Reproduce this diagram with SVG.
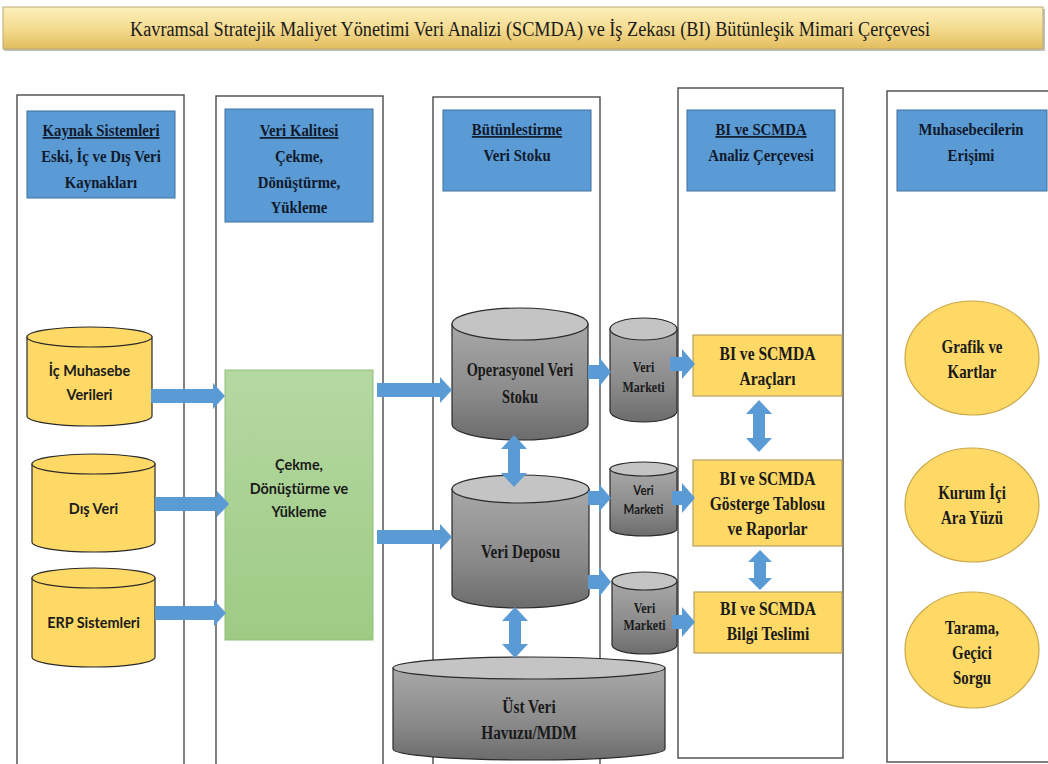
<svg xmlns="http://www.w3.org/2000/svg" width="1048" height="764" viewBox="0 0 1048 764">
  <style>
    .col { fill: #ffffff; stroke: #4a4a4a; stroke-width: 1.4; }
    .hdr { fill: #5b9bd5; stroke: #41719c; stroke-width: 1; }
    .hdrtxt { font-family: "Liberation Serif", "Times New Roman", serif; font-weight: bold; font-size: 17px; fill: #101a2c; text-anchor: middle; }
    .u { text-decoration: underline; }
    .serif { font-family: "Liberation Serif", "Times New Roman", serif; font-weight: bold; fill: #1a1a1a; text-anchor: middle; }
    .sans { font-family: Lato, "Open Sans", "Liberation Sans", sans-serif; font-weight: bold; fill: #1a1a1a; text-anchor: middle; }
    .ycyl { fill: #ffd966; stroke: #2a2a2a; stroke-width: 1.2; }
    .gbody { fill: url(#grayBody); stroke: #2a2a2a; stroke-width: 1.2; }
    .gtop { fill: #c4c4c4; stroke: #2a2a2a; stroke-width: 1.2; }
    .ybox { fill: #ffd966; stroke: #b8a060; stroke-width: 1.2; }
    .yell { fill: #ffd966; stroke: #c9a84a; stroke-width: 1.2; }
    .arw { fill: #5b9bd5; stroke: none; }
  </style>
  <defs>
    <linearGradient id="titleGrad" x1="0" y1="0" x2="0" y2="1">
      <stop offset="0" stop-color="#fdf0bb"/>
      <stop offset="0.5" stop-color="#f5dc92"/>
      <stop offset="1" stop-color="#e2bd5e"/>
    </linearGradient>
    <linearGradient id="greenGrad" x1="0" y1="0" x2="0" y2="1">
      <stop offset="0" stop-color="#b5d8a2"/>
      <stop offset="1" stop-color="#9ecb84"/>
    </linearGradient>
    <linearGradient id="grayBody" x1="0" y1="0" x2="0" y2="1">
      <stop offset="0" stop-color="#a8a8a8"/>
      <stop offset="0.6" stop-color="#8a8a8a"/>
      <stop offset="1" stop-color="#6c6c6c"/>
    </linearGradient>
  </defs>

  <!-- title banner -->
  <g id="title">
    <rect x="4" y="9" width="1041" height="42" fill="#9a9a9a" opacity="0.6"/>
    <rect x="3" y="7" width="1040" height="42" fill="url(#titleGrad)" stroke="#b9a878" stroke-width="1"/>
    <text x="530" y="36" font-family="Liberation Serif, Times New Roman, serif" font-size="20" fill="#1a1a1a" text-anchor="middle" textLength="800" lengthAdjust="spacingAndGlyphs">Kavramsal  Stratejik  Maliyet  Yönetimi  Veri  Analizi  (SCMDA) ve  İş  Zekası  (BI)  Bütünleşik  Mimari  Çerçevesi</text>
  </g>

  <!-- column frames with headings -->
  <g id="col-sources">
    <rect class="col" x="17" y="95" width="167" height="690"/>
    <rect class="hdr" x="27" y="111" width="148" height="87"/>
    <g class="hdrtxt" transform="matrix(0.87,0,0,1,101,0)">
      <text x="0" y="136"><tspan class="u">Kaynak Sistemleri</tspan></text>
      <text x="0" y="162">Eski, İç ve Dış Veri</text>
      <text x="0" y="188">Kaynakları</text>
    </g>
  </g>
  <g id="col-quality">
    <rect class="col" x="216" y="96" width="167" height="690" stroke="#666"/>
    <rect class="hdr" x="225" y="109" width="148" height="113"/>
    <g class="hdrtxt" transform="matrix(0.87,0,0,1,299,0)">
      <text x="0" y="136"><tspan class="u">Veri Kalitesi</tspan></text>
      <text x="0" y="162">Çekme,</text>
      <text x="0" y="188">Dönüştürme,</text>
      <text x="0" y="213">Yükleme</text>
    </g>
  </g>
  <g id="col-integration">
    <rect class="col" x="433" y="97" width="167" height="690"/>
    <rect class="hdr" x="443" y="110" width="148" height="81"/>
    <g class="hdrtxt" transform="matrix(0.87,0,0,1,517,0)">
      <text x="0" y="135"><tspan class="u">Bütünlestirme</tspan></text>
      <text x="0" y="161">Veri Stoku</text>
    </g>
  </g>
  <g id="col-analysis">
    <rect class="col" x="678" y="88" width="165" height="670"/>
    <rect class="hdr" x="687" y="110" width="148" height="81"/>
    <g class="hdrtxt" transform="matrix(0.87,0,0,1,761,0)">
      <text x="0" y="135"><tspan class="u">BI ve SCMDA</tspan></text>
      <text x="0" y="161">Analiz  Çerçevesi</text>
    </g>
  </g>
  <g id="col-access">
    <rect class="col" x="887" y="91" width="200" height="671"/>
    <rect class="hdr" x="897" y="110" width="150" height="81"/>
    <g class="hdrtxt" transform="matrix(0.87,0,0,1,971,0)">
      <text x="0" y="135">Muhasebecilerin</text>
      <text x="0" y="161">Erişimi</text>
    </g>
  </g>

  <!-- source databases -->
  <g id="src-internal">
    <path class="ycyl" d="M27,337 V416 A62.5,10 0 0 0 152,416 V337 Z"/>
    <ellipse class="ycyl" cx="89.5" cy="337" rx="62.5" ry="10"/>
    <g class="sans" font-size="16" transform="matrix(0.9,0,0,1,89.5,0)">
      <text x="0" y="375.5">İç Muhasebe</text>
      <text x="0" y="400.5">Verileri</text>
    </g>
  </g>
  <g id="src-external">
    <path class="ycyl" d="M32,464 V542 A61.5,10 0 0 0 155,542 V464 Z"/>
    <ellipse class="ycyl" cx="93.5" cy="464" rx="61.5" ry="10"/>
    <g class="sans" font-size="16" transform="matrix(0.9,0,0,1,93.5,0)">
      <text x="0" y="514.5">Dış Veri</text>
    </g>
  </g>
  <g id="src-erp">
    <path class="ycyl" d="M32,578 V657 A61.5,10 0 0 0 155,657 V578 Z"/>
    <ellipse class="ycyl" cx="93.5" cy="578" rx="61.5" ry="10"/>
    <g class="sans" font-size="16" transform="matrix(0.9,0,0,1,93.5,0)">
      <text x="0" y="628.5">ERP Sistemleri</text>
    </g>
  </g>

  <!-- extract / transform / load -->
  <g id="etl">
    <rect x="225" y="370" width="148" height="270" fill="url(#greenGrad)" stroke="#8fbf78" stroke-width="1"/>
    <g class="sans" font-size="16" transform="matrix(0.9,0,0,1,299,0)">
      <text x="0" y="470.5">Çekme,</text>
      <text x="0" y="494">Dönüştürme ve</text>
      <text x="0" y="517.5">Yükleme</text>
    </g>
  </g>

  <!-- integration stores -->
  <g id="ods">
    <path class="gbody" d="M452,324 V424 A68,16 0 0 0 588,424 V324 Z"/>
    <ellipse class="gtop" cx="520" cy="324" rx="68" ry="16"/>
    <g class="serif" font-size="18" transform="matrix(0.8,0,0,1,520,0)">
      <text x="0" y="376">Operasyonel Veri</text>
      <text x="0" y="403">Stoku</text>
    </g>
  </g>
  <g id="dwh">
    <path class="gbody" d="M452,489 V594 A68.5,14 0 0 0 589,594 V489 Z"/>
    <ellipse class="gtop" cx="520.5" cy="489" rx="68.5" ry="14"/>
    <g class="serif" font-size="19" transform="matrix(0.8,0,0,1,520.5,0)">
      <text x="0" y="558.5">Veri Deposu</text>
    </g>
  </g>
  <g id="mdm">
    <path class="gbody" d="M393,668 V749 A136,11 0 0 0 665,749 V668 Z"/>
    <ellipse class="gtop" cx="529" cy="668" rx="136" ry="11"/>
    <g class="serif" font-size="19" transform="matrix(0.81,0,0,1,529,0)">
      <text x="0" y="713.5">Üst Veri</text>
      <text x="0" y="739.5">Havuzu/MDM</text>
    </g>
  </g>

  <!-- data marts -->
  <g id="mart-1">
    <path class="gbody" d="M610,329 V411 A33.5,11 0 0 0 677,411 V329 Z"/>
    <ellipse class="gtop" cx="643.5" cy="329" rx="33.5" ry="11"/>
    <g class="serif" font-size="15" transform="matrix(0.8,0,0,1,643.5,0)">
      <text x="0" y="372">Veri</text>
      <text x="0" y="392">Marketi</text>
    </g>
  </g>
  <g id="mart-2">
    <path class="gbody" d="M610,469 V529 A33.5,7 0 0 0 677,529 V469 Z"/>
    <ellipse class="gtop" cx="643.5" cy="469" rx="33.5" ry="7"/>
    <g class="sans" font-size="13" font-weight="normal" transform="matrix(0.88,0,0,1,643.5,0)">
      <text x="0" y="495.5">Veri</text>
      <text x="0" y="514.5">Marketi</text>
    </g>
  </g>
  <g id="mart-3">
    <path class="gbody" d="M612,581 V645 A32.5,9 0 0 0 677,645 V581 Z"/>
    <ellipse class="gtop" cx="644.5" cy="581" rx="32.5" ry="9"/>
    <g class="serif" font-size="15" transform="matrix(0.8,0,0,1,644.5,0)">
      <text x="0" y="613">Veri</text>
      <text x="0" y="630.5">Marketi</text>
    </g>
  </g>

  <!-- analysis components -->
  <g id="bi-tools">
    <rect class="ybox" x="693" y="335" width="149" height="61"/>
    <g class="serif" font-size="19" transform="matrix(0.82,0,0,1,767.5,0)">
      <text x="0" y="360">BI ve SCMDA</text>
      <text x="0" y="385">Araçları</text>
    </g>
  </g>
  <g id="bi-dashboard">
    <rect class="ybox" x="693" y="460" width="149" height="86"/>
    <g class="serif" font-size="19" transform="matrix(0.82,0,0,1,767.5,0)">
      <text x="0" y="485">BI ve SCMDA</text>
      <text x="0" y="510">Gösterge Tablosu</text>
      <text x="0" y="535">ve Raporlar</text>
    </g>
  </g>
  <g id="bi-delivery">
    <rect class="ybox" x="694" y="592" width="148" height="61"/>
    <g class="serif" font-size="19" transform="matrix(0.82,0,0,1,768,0)">
      <text x="0" y="615">BI ve SCMDA</text>
      <text x="0" y="640">Bilgi Teslimi</text>
    </g>
  </g>

  <!-- access channels -->
  <g id="acc-charts">
    <ellipse class="yell" cx="972" cy="358" rx="67" ry="57"/>
    <g class="serif" font-size="18" transform="matrix(0.83,0,0,1,972,0)">
      <text x="0" y="353">Grafik  ve</text>
      <text x="0" y="378">Kartlar</text>
    </g>
  </g>
  <g id="acc-portal">
    <ellipse class="yell" cx="972" cy="505" rx="67" ry="57"/>
    <g class="serif" font-size="18" transform="matrix(0.83,0,0,1,972,0)">
      <text x="0" y="499">Kurum  İçi</text>
      <text x="0" y="524">Ara Yüzü</text>
    </g>
  </g>
  <g id="acc-query">
    <ellipse class="yell" cx="972" cy="650" rx="67" ry="58"/>
    <g class="serif" font-size="18" transform="matrix(0.83,0,0,1,972,0)">
      <text x="0" y="634">Tarama,</text>
      <text x="0" y="659">Geçici</text>
      <text x="0" y="684">Sorgu</text>
    </g>
  </g>

  <!-- connectors: block arrows -->
  <g id="connectors">
    <!-- sources to ETL -->
    <polygon class="arw" points="151,389 213,389 213,383 225,396 213,409 213,403 151,403"/>
    <polygon class="arw" points="155,497 217,497 217,491 229,504 217,517 217,511 155,511"/>
    <polygon class="arw" points="155,606 214,606 214,600 226,613 214,626 214,620 155,620"/>
    <!-- ETL to stores -->
    <polygon class="arw" points="377,383 440,383 440,377 452,390 440,403 440,397 377,397"/>
    <polygon class="arw" points="377,530 440,530 440,524 452,537 440,550 440,544 377,544"/>
    <!-- stores to marts -->
    <polygon class="arw" points="588,365 599,365 599,357 611,372 599,387 599,379 588,379"/>
    <polygon class="arw" points="588,491 599,491 599,484 611,498 599,512 599,505 588,505"/>
    <polygon class="arw" points="588,575 599,575 599,567 611,582 599,597 599,589 588,589"/>
    <!-- marts to analysis -->
    <polygon class="arw" points="670,357 682,357 682,349 695,364 682,379 682,371 670,371"/>
    <polygon class="arw" points="672,491 682,491 682,483 695,498 682,513 682,505 672,505"/>
    <polygon class="arw" points="672,615 682,615 682,607 695,622 682,637 682,629 672,629"/>
    <!-- two-way links -->
    <polygon class="arw" points="514,435 527,449 520,449 520,473 527,473 514,487 501,473 508,473 508,449 501,449"/>
    <polygon class="arw" points="515,607 528,621 521,621 521,644 528,644 515,658 502,644 509,644 509,621 502,621"/>
    <polygon class="arw" points="759,400 772,414 765,414 765,438 772,438 759,452 746,438 753,438 753,414 746,414"/>
    <polygon class="arw" points="760,550 772,562 766,562 766,578 772,578 760,590 748,578 754,578 754,562 748,562"/>
  </g>
</svg>
